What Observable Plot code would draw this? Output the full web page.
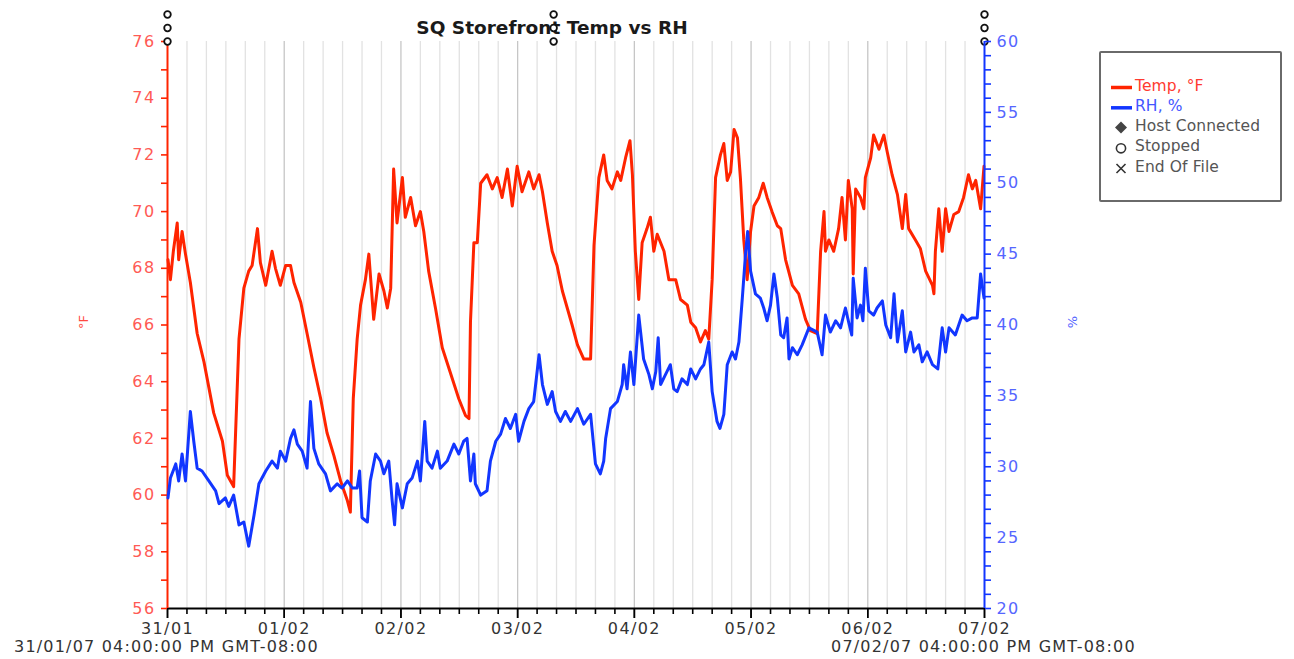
<!DOCTYPE html>
<html><head><meta charset="utf-8">
<script src="https://cdn.jsdelivr.net/npm/d3@7"></script>
<script src="https://cdn.jsdelivr.net/npm/@observablehq/plot@0.6"></script>
<style>
html,body{margin:0;padding:0;background:#fff;}
#wrap{position:relative;width:1294px;height:659px;overflow:hidden;font-family:"DejaVu Sans",sans-serif;}
#wrap svg.plot{position:absolute;left:0;top:0;}
#wrap svg.plot text{letter-spacing:1.4px;}
.t{position:absolute;white-space:nowrap;line-height:1;}
</style></head><body><div id="wrap"></div>
<script>
// ---- data (hours from 31/01/07 04:00 PM) ----
const tempHours = [0.1,0.6,1.2,2.0,2.3,3.0,3.7,4.7,6.1,7.5,
9.5,11.3,12.3,13.6,14.7,15.7,16.7,17.4,18.5,19.1,
20.2,21.5,22.2,23.2,24.3,25.3,26.0,27.4,28.7,30.1,
31.5,32.8,34.2,35.6,37.0,37.6,38.2,39.0,39.7,40.7,
41.4,42.4,43.5,44.5,45.2,45.9,46.5,47.2,48.3,48.9,
50.0,51.0,52.0,52.7,53.7,55.1,56.5,58.2,59.9,61.3,
62.0,62.3,63.0,63.7,64.4,65.7,66.8,67.8,68.8,69.9,
70.9,71.9,72.9,74.3,75.3,76.4,77.1,78.1,79.1,80.1,
81.2,82.2,83.2,84.3,85.6,87.0,87.7,88.7,89.7,90.4,
91.4,92.5,93.2,94.2,95.1,95.6,96.2,96.9,97.6,98.6,
99.3,100.0,100.7,102.1,103.1,104.5,105.5,106.9,107.6,108.6,
109.6,110.6,111.3,112.0,112.7,113.7,114.4,115.1,115.8,116.5,
117.2,117.8,118.5,119.2,119.9,120.6,121.6,122.5,123.3,124.3,
125.4,126.1,127.1,128.5,129.8,131.2,132.2,133.6,134.3,135.0,
135.3,136.0,137.0,138.0,138.7,139.4,140.0,140.8,141.0,141.5,
142.5,143.2,143.5,144.6,145.2,146.3,147.3,148.0,149.0,150.1,
151.1,151.8,152.4,153.8,154.8,155.9,157.3,157.6,157.9,158.6,
159.3,160.0,160.7,161.7,162.7,163.7,164.7,165.5,166.2,167.2,
167.9];
const tempValues = [68.3,67.6,68.6,69.6,68.3,69.3,68.5,67.5,65.7,64.7,
62.9,61.9,60.7,60.3,65.5,67.3,67.9,68.1,69.4,68.2,
67.4,68.6,68.0,67.4,68.1,68.1,67.5,66.8,65.7,64.5,
63.4,62.2,61.4,60.5,59.8,59.4,63.4,65.5,66.7,67.6,
68.5,66.2,67.8,67.2,66.6,67.3,71.5,69.6,71.2,69.8,
70.5,69.5,70.0,69.3,67.9,66.6,65.2,64.3,63.4,62.8,
62.7,66.1,68.9,68.9,71.0,71.3,70.8,71.2,70.5,71.5,
70.2,71.6,70.7,71.4,70.8,71.3,70.7,69.6,68.6,68.1,
67.2,66.6,66.0,65.3,64.8,64.8,68.8,71.2,72.0,71.1,
70.8,71.4,71.1,71.9,72.5,71.3,68.6,66.9,68.9,69.4,
69.8,68.6,69.2,68.6,67.6,67.6,66.9,66.7,66.1,65.9,
65.4,65.8,65.5,67.6,71.2,72.0,72.4,71.1,71.4,72.9,
72.6,71.2,69.0,67.6,69.3,70.2,70.5,71.0,70.5,70.0,
69.5,69.4,68.3,67.4,67.1,66.2,65.8,65.7,68.6,70.0,
68.6,69.0,68.6,69.4,70.5,69.0,71.1,70.1,67.8,70.8,
70.5,70.1,71.2,71.9,72.7,72.2,72.7,72.1,71.3,70.6,
69.4,70.6,69.4,69.0,68.7,67.9,67.4,67.1,68.6,70.1,
68.6,70.1,69.3,69.9,70.0,70.5,71.3,70.8,71.1,70.1,
71.6];
const rhHours = [0.1,0.6,1.7,2.3,3.0,3.7,4.7,5.4,6.1,7.1,
8.5,9.9,10.6,11.9,12.6,13.6,14.7,15.7,16.7,17.8,
18.8,20.2,21.5,22.6,23.2,24.3,25.3,26.0,26.7,27.7,
28.7,29.4,30.1,31.1,32.5,33.5,34.9,35.9,37.0,38.0,
39.0,39.5,40.0,41.1,41.7,42.8,43.8,44.5,45.5,46.2,
46.7,47.2,48.3,49.3,50.3,51.4,52.0,52.9,53.4,54.4,
55.5,56.1,57.5,58.9,59.9,60.9,61.6,62.3,63.0,63.3,
64.4,65.7,66.4,67.5,68.5,69.5,70.5,71.6,72.2,73.3,
74.3,75.3,76.4,77.1,78.1,79.1,79.8,80.8,81.8,82.9,
84.3,85.6,87.0,88.0,89.0,89.7,90.1,91.1,92.5,93.5,
93.8,94.5,95.2,95.9,96.9,97.9,99.0,99.7,100.4,100.9,
101.4,102.4,103.4,104.1,104.8,105.8,106.9,107.6,108.6,109.6,
110.3,111.3,112.0,113.0,113.6,114.4,115.1,116.1,116.8,117.5,
118.2,118.9,119.3,119.9,120.9,121.9,122.6,123.3,124.0,124.7,
125.4,126.1,126.7,127.4,127.8,128.5,129.5,130.5,131.9,133.6,
134.6,135.3,136.3,137.4,138.4,139.4,140.2,140.7,141.0,141.8,
142.5,143.0,143.5,144.2,145.2,145.9,147.0,147.7,148.7,149.4,
150.1,151.1,151.8,152.8,153.5,154.5,155.2,156.2,157.3,158.4,
159.3,160.0,160.7,162.0,163.4,164.4,165.5,166.5,167.2,167.9];
const rhValues = [27.8,29.2,30.2,29.0,30.9,29.0,33.9,31.8,29.9,29.7,
29.0,28.3,27.4,27.8,27.2,28.0,25.9,26.1,24.4,26.6,
28.8,29.7,30.4,29.9,31.1,30.4,32.0,32.6,31.6,31.1,
29.9,34.6,31.3,30.2,29.5,28.3,28.8,28.5,29.0,28.5,
28.5,29.7,26.4,26.1,29.0,30.9,30.4,29.5,30.4,27.6,
25.9,28.8,27.1,28.8,29.2,30.4,29.0,33.2,30.4,29.9,
31.1,29.9,30.4,31.6,30.9,31.8,32.0,29.0,30.9,28.8,
28.0,28.3,30.4,31.8,32.3,33.4,32.7,33.7,31.8,33.2,
34.1,34.6,37.9,35.8,34.4,35.3,33.9,33.2,33.9,33.2,
34.1,33.0,33.7,30.2,29.5,30.4,32.0,34.1,34.6,35.8,
37.2,35.5,38.1,35.8,40.7,37.6,36.5,35.5,36.7,39.1,
35.8,36.5,37.2,35.5,35.3,36.2,35.8,36.9,36.2,36.9,
37.2,38.8,35.3,33.2,32.7,33.7,37.2,38.1,37.6,38.8,
41.9,45.2,46.6,43.8,42.2,41.9,41.2,40.3,41.4,43.6,
41.9,39.3,39.1,40.5,37.6,38.4,37.9,38.6,39.8,39.5,
37.9,40.7,39.5,40.3,39.8,41.2,40.0,39.3,43.3,40.5,
41.4,40.3,44.0,41.0,40.7,41.2,41.7,40.0,39.1,42.2,
38.8,41.0,38.1,39.5,38.1,38.6,37.4,38.1,37.2,36.9,
39.8,38.1,39.8,39.3,40.7,40.3,40.5,40.5,43.6,41.9];
const stoppedHours = [0, 79.4, 168];
const tempTicks = [56,58,60,62,64,66,68,70,72,74,76];
const rhTicks = [20,25,30,35,40,45,50,55,60];
const legendItems = ["Temp, °F","RH, %","Host Connected","Stopped","End Of File"];
const titleText = "SQ Storefront Temp vs RH";
const startLabel = "31/01/07 04:00:00 PM GMT-08:00";
const endLabel = "07/02/07 04:00:00 PM GMT-08:00";

// ---- build ----
const RED = "#ff2400", BLUE = "#1236ff";
const start = Date.UTC(2007,0,31);
const T = h => new Date(start + h*3600e3);
const xDomain = [T(0), T(168)];
const dayTicks = d3.range(0,169,24).map(T);
const minorTicks = d3.range(0,169,4).filter(h => h % 24).map(T);
const tempData = tempHours.map((h,i)=>({t:T(h), v:tempValues[i]}));
const rhData = rhHours.map((h,i)=>({t:T(h), v:rhValues[i]}));
const stopped = stoppedHours.map(T);

const common = {width:1294, height:659, marginLeft:167, marginRight:310, marginTop:41, marginBottom:51,
  style:{background:"transparent", fontFamily:"DejaVu Sans, sans-serif", fontSize:"16px", overflow:"visible"}};

const wrap = document.getElementById("wrap");
const title = document.createElement("div");
title.className = "t"; title.textContent = titleText;
Object.assign(title.style,{left:"552px",top:"19px",transform:"translateX(-50%)",fontSize:"18.5px",fontWeight:"bold",color:"#1a1a1a"});
wrap.appendChild(title);

const plotA = Plot.plot({...common,
  x:{type:"utc", domain:xDomain, label:null},
  y:{domain:[56,76], label:null},
  marks:[
    Plot.gridX(minorTicks,{stroke:"#e2e2e2", strokeOpacity:1, strokeWidth:1.3}),
    Plot.gridX(dayTicks.slice(1,-1),{stroke:"#c6c6c6", strokeOpacity:1, strokeWidth:1.3}),
    Plot.axisX(minorTicks,{tickSize:6, tickFormat:()=>"", color:"#000", strokeWidth:1.6, label:null}),
    Plot.axisX(dayTicks,{tickSize:10, tickPadding:4, tickFormat:d3.utcFormat("%d/%m"), color:"#333", strokeWidth:1.6, fontSize:16, label:null}),
    Plot.axisX(dayTicks,{tickSize:10, tickFormat:()=>"", color:"#000", strokeWidth:1.6, label:null}),
    Plot.ruleY([56],{stroke:"#000", strokeWidth:2}),
    Plot.axisY(d3.range(56,77,1),{tickSize:6, tickFormat:()=>"", color:RED, strokeWidth:1.6, label:null}),
    Plot.axisY(tempTicks,{tickSize:0, tickPadding:12, color:"#ff5a55", fontSize:16, label:null}),
    Plot.ruleX([T(0)],{stroke:RED, strokeWidth:2}),
    Plot.lineY(tempData,{x:"t", y:"v", stroke:RED, strokeWidth:3, strokeLinejoin:"round"}),
    ...[0,-13.5,-27].map(dy => Plot.dot(stopped,{x:d=>d, y:()=>76, dy, r:3.3, stroke:"#111", fill:"#fff", strokeWidth:1.8}))
  ]});
plotA.classList.add("plot");
wrap.appendChild(plotA);

const plotB = Plot.plot({...common,
  x:{type:"utc", domain:xDomain, axis:null, label:null},
  y:{domain:[20,60], label:null},
  marks:[
    Plot.axisY(d3.range(20,61,1),{anchor:"right", tickSize:6, tickFormat:()=>"", color:BLUE, strokeWidth:1.6, label:null}),
    Plot.axisY(rhTicks,{anchor:"right", tickSize:0, tickPadding:12, color:"#5566ff", fontSize:16, label:null}),
    Plot.ruleX([T(168)],{stroke:BLUE, strokeWidth:2}),
    Plot.lineY(rhData,{x:"t", y:"v", stroke:BLUE, strokeWidth:3, strokeLinejoin:"round"})
  ]});
plotB.classList.add("plot");
wrap.appendChild(plotB);

function addText(txt, css){const d=document.createElement("div"); d.className="t"; d.textContent=txt; Object.assign(d.style,css); wrap.appendChild(d); return d;}
addText(startLabel,{left:"14px",top:"639px",fontSize:"16px",letterSpacing:"1.2px",color:"#333"});
addText(endLabel,{left:"831px",top:"639px",fontSize:"16px",letterSpacing:"1.2px",color:"#333"});
addText("°F",{left:"83px",top:"322px",fontSize:"13px",color:"#ff4a40",transform:"translate(-50%,-50%) rotate(-90deg)"});
addText("%",{left:"1072px",top:"322px",fontSize:"13px",color:"#5566ff",transform:"translate(-50%,-50%) rotate(-90deg)"});

// legend
const lg = document.createElement("div");
Object.assign(lg.style,{position:"absolute",left:"1099px",top:"51px",width:"179px",height:"147px",border:"2px solid #6a6a6a",borderRadius:"2px",background:"#fff"});
wrap.appendChild(lg);
const ns="http://www.w3.org/2000/svg";
const ls=document.createElementNS(ns,"svg");
ls.setAttribute("width","1294"); ls.setAttribute("height","659");
ls.style.position="absolute"; ls.style.left="0"; ls.style.top="0";
ls.innerHTML = `
<line x1="1111" x2="1132" y1="87.5" y2="87.5" stroke="${RED}" stroke-width="3.5"/>
<line x1="1111" x2="1132" y1="107.8" y2="107.8" stroke="${BLUE}" stroke-width="3.5"/>
<path d="M1121,121.5 L1127,127.5 L1121,133.5 L1115,127.5 Z" fill="#444"/>
<circle cx="1121" cy="148.3" r="4.6" fill="none" stroke="#333" stroke-width="1.6"/>
<path d="M1116.5,164 L1125.5,173 M1125.5,164 L1116.5,173" stroke="#333" stroke-width="1.6"/>`;
wrap.appendChild(ls);
const lcol=["#ff3a30","#4455ff","#555","#555","#555"];
legendItems.forEach((s,i)=>addText(s,{left:"1135px",top:(78.5+i*20.3)+"px",fontSize:"15.5px",letterSpacing:"0.1px",color:lcol[i]}));
</script></body></html>
